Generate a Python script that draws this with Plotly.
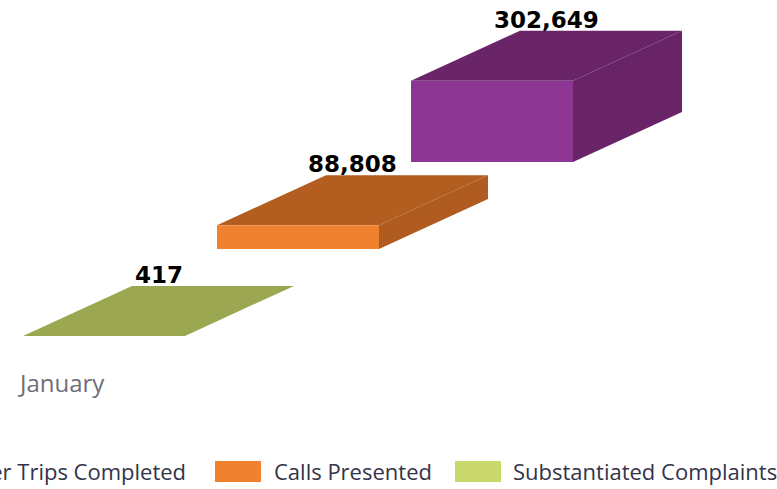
import plotly.graph_objects as go

# ---- data ----
categories = ["January"]
series_names = ["Passenger Trips Completed", "Calls Presented", "Substantiated Complaints"]
series_values = [302649, 88808, 417]
value_labels = ["302,649", "88,808", "417"]

# ---- style ----
front_colors = ["#8C3593", "#F0822F", "#C8D86A"]
top_colors = ["#6A2569", "#B35D21", "#9CA752"]
side_colors = ["#692468", "#B05B20", "#8E9A48"]
legend_colors = ["#8C3593", "#F0822F", "#CAD96C"]
depth_index = [2, 1, 0]  # purple furthest back, green in front

W_PX, H_PX = 777, 489
K = 3720.0          # value units per pixel
BASE_PX = 336       # baseline pixel row of front series
X0 = 23             # front-left x of front series
BAR_W = 162
DX, DY = 109, 50    # depth offset of box (px)
SX, SY = 194, 87    # shift between depth rows (px)

fig = go.Figure()

def poly(xs, ys, color):
    fig.add_trace(go.Scatter(
        x=xs + [xs[0]], y=ys + [ys[0]], mode="lines", fill="toself",
        fillcolor=color, line=dict(width=0, color=color),
        hoverinfo="skip", showlegend=False))

# draw back to front
order = sorted(range(len(series_values)), key=lambda i: -depth_index[i])
for i in order:
    d = depth_index[i]
    v = series_values[i]
    x0 = X0 + d * SX
    base = d * SY * K
    top = base + v
    dyv = DY * K
    # top face
    poly([x0, x0 + BAR_W, x0 + BAR_W + DX, x0 + DX], [top, top, top + dyv, top + dyv], top_colors[i])
    # side face
    poly([x0 + BAR_W, x0 + BAR_W + DX, x0 + BAR_W + DX, x0 + BAR_W],
         [base, base + dyv, top + dyv, top], side_colors[i])
    # front face
    poly([x0, x0 + BAR_W, x0 + BAR_W, x0], [base, base, top, top], front_colors[i])
    fig.add_annotation(x=x0 + BAR_W / 2 + DX / 2, y=top + dyv, xref="x", yref="y",
                       text=value_labels[i], showarrow=False, yanchor="bottom", yshift=-4,
                       font=dict(family="DejaVu Sans", size=23, color="#000000", weight="bold"))

# category label
fig.add_annotation(x=16 / W_PX, y=1 - 382 / H_PX, xref="paper", yref="paper",
                   text=categories[0], showarrow=False, xanchor="left", yanchor="middle",
                   font=dict(family="Open Sans", size=24, color="#6E6E78"))

# manual legend (first entry runs off the left edge, as in the reference)
legend_items = [(-80, 188), (215, 272), (455, 511)]  # swatch left, text anchor (px)
for i, (sx, tx) in enumerate(legend_items):
    fig.add_shape(type="rect", xref="paper", yref="paper",
                  x0=sx / W_PX, x1=(sx + 46) / W_PX, y0=1 - 482 / H_PX, y1=1 - 461 / H_PX,
                  fillcolor=legend_colors[i], line=dict(width=0))
    fig.add_annotation(x=tx / W_PX, y=1 - 471 / H_PX, xref="paper", yref="paper",
                       text=series_names[i], showarrow=False,
                       xanchor="right" if i == 0 else "left", yanchor="middle",
                       font=dict(family="Open Sans", size=22, color="#33334A"))

fig.update_layout(
    width=W_PX, height=H_PX,
    margin=dict(l=0, r=0, t=0, b=0, pad=0),
    paper_bgcolor="white", plot_bgcolor="white",
    showlegend=False,
    xaxis=dict(range=[0, W_PX], visible=False, fixedrange=True),
    yaxis=dict(range=[-(H_PX - BASE_PX) * K, BASE_PX * K], visible=False, fixedrange=True),
)

fig.write_html("out.html", config={"displayModeBar": False},
               post_script="document.body.style.margin='0';document.body.style.overflow='hidden';")
